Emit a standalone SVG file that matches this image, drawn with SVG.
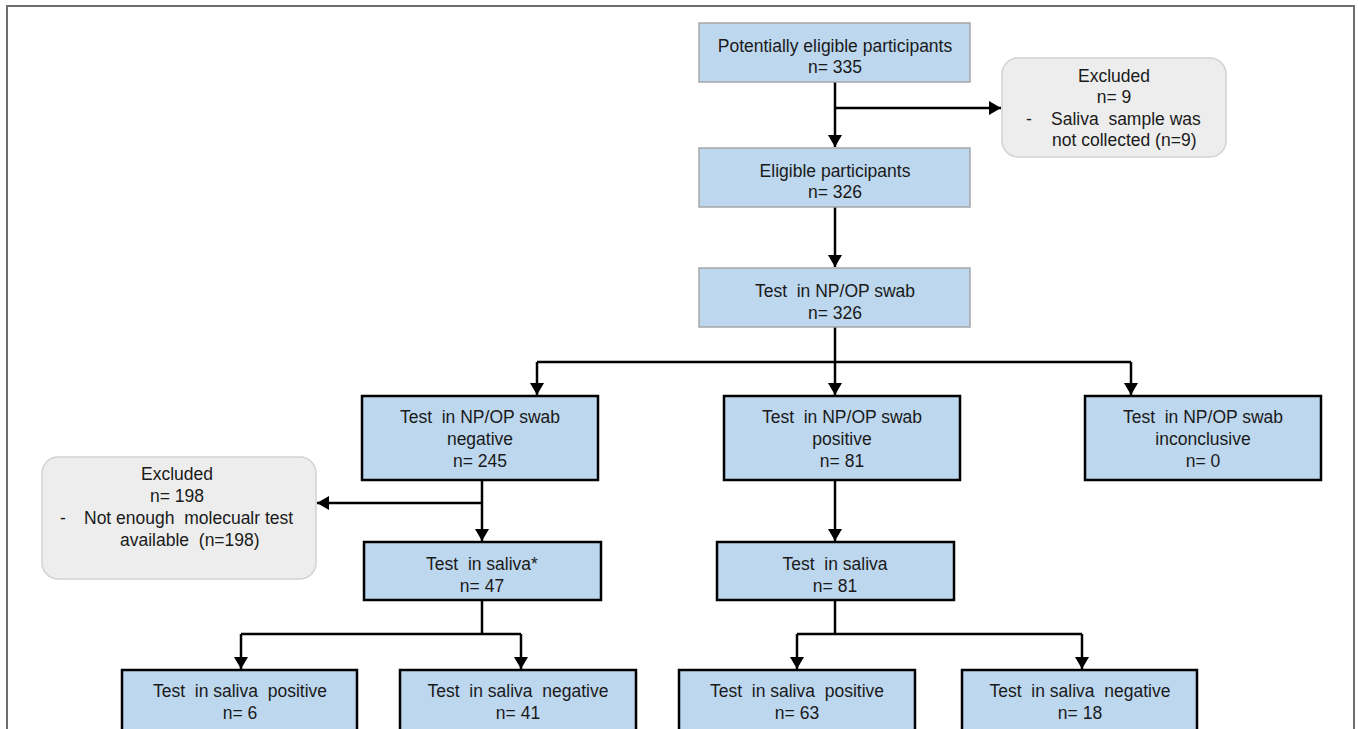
<svg xmlns="http://www.w3.org/2000/svg" width="1358" height="729" viewBox="0 0 1358 729">
<style>
  text { font-family: "Liberation Sans", Arial, sans-serif; font-size: 17.5px; fill: #1a1a1a; white-space: pre; }
  .c { text-anchor: middle; }
  .s { text-anchor: start; }
  .top { fill: #bdd7ee; stroke: #a6a6a6; stroke-width: 1.5; }
  .box { fill: #bdd7ee; stroke: #000; stroke-width: 2.5; }
  .exc { fill: #ededed; stroke: #d2d2d2; stroke-width: 1.5; }
  .ln { fill: none; stroke: #000; stroke-width: 2.5; }
</style>
<defs>
  <marker id="ah" markerUnits="userSpaceOnUse" markerWidth="16" markerHeight="16" viewBox="0 0 16 16" refX="13" refY="8" orient="auto">
    <path d="M1,1 L13,8 L1,15 Z" fill="#000"/>
  </marker>
</defs>
<rect x="7" y="6" width="1347" height="760" fill="none" stroke="#6e6e6e" stroke-width="2"/>

<g id="connectors">
  <path class="ln" d="M835,82 V147" marker-end="url(#ah)"/>
  <path class="ln" d="M835,108 H1001" marker-end="url(#ah)"/>
  <path class="ln" d="M835,207 V267" marker-end="url(#ah)"/>
  <path class="ln" d="M835,327 V362"/>
  <path class="ln" d="M537,362 H1131"/>
  <path class="ln" d="M537,362 V395" marker-end="url(#ah)"/>
  <path class="ln" d="M835,362 V395" marker-end="url(#ah)"/>
  <path class="ln" d="M1131,362 V395" marker-end="url(#ah)"/>
  <path class="ln" d="M482,480 V541" marker-end="url(#ah)"/>
  <path class="ln" d="M482,503 H317" marker-end="url(#ah)"/>
  <path class="ln" d="M835,480 V541" marker-end="url(#ah)"/>
  <path class="ln" d="M482,600 V634"/>
  <path class="ln" d="M241,634 H521"/>
  <path class="ln" d="M241,634 V669" marker-end="url(#ah)"/>
  <path class="ln" d="M521,634 V669" marker-end="url(#ah)"/>
  <path class="ln" d="M835,600 V634"/>
  <path class="ln" d="M797,634 H1082"/>
  <path class="ln" d="M797,634 V669" marker-end="url(#ah)"/>
  <path class="ln" d="M1082,634 V669" marker-end="url(#ah)"/>
</g>

<g id="potentially-eligible">
  <rect class="top" x="699" y="23" width="271" height="59"/>
  <text class="c" x="835" y="52">Potentially eligible participants</text>
  <text class="c" x="835" y="73">n= 335</text>
</g>

<g id="excluded-top">
  <rect class="exc" x="1002" y="58" width="224" height="99" rx="16"/>
  <text class="c" x="1114" y="82">Excluded</text>
  <text class="c" x="1114" y="103">n= 9</text>
  <text class="s" x="1026" y="125">-</text>
  <text class="s" x="1051" y="125">Saliva  sample was</text>
  <text class="s" x="1052" y="146">not collected (n=9)</text>
</g>

<g id="eligible">
  <rect class="top" x="699" y="148" width="271" height="59"/>
  <text class="c" x="835" y="177">Eligible participants</text>
  <text class="c" x="835" y="198">n= 326</text>
</g>

<g id="test-npop">
  <rect class="top" x="699" y="268" width="271" height="59"/>
  <text class="c" x="835" y="297">Test  in NP/OP swab</text>
  <text class="c" x="835" y="319">n= 326</text>
</g>

<g id="npop-negative">
  <rect class="box" x="362" y="396" width="236" height="84"/>
  <text class="c" x="480" y="423">Test  in NP/OP swab</text>
  <text class="c" x="480" y="445">negative</text>
  <text class="c" x="480" y="467">n= 245</text>
</g>

<g id="npop-positive">
  <rect class="box" x="724" y="396" width="236" height="84"/>
  <text class="c" x="842" y="423">Test  in NP/OP swab</text>
  <text class="c" x="842" y="445">positive</text>
  <text class="c" x="842" y="467">n= 81</text>
</g>

<g id="npop-inconclusive">
  <rect class="box" x="1085" y="396" width="236" height="84"/>
  <text class="c" x="1203" y="423">Test  in NP/OP swab</text>
  <text class="c" x="1203" y="445">inconclusive</text>
  <text class="c" x="1203" y="467">n= 0</text>
</g>

<g id="excluded-left">
  <rect class="exc" x="42" y="457" width="274" height="122" rx="16"/>
  <text class="c" x="177" y="480">Excluded</text>
  <text class="c" x="177" y="502">n= 198</text>
  <text class="s" x="60" y="524">-</text>
  <text class="s" x="84" y="524">Not enough  molecualr test</text>
  <text class="s" x="120" y="546">available  (n=198)</text>
</g>

<g id="saliva-neg-branch">
  <rect class="box" x="364" y="542" width="237" height="58"/>
  <text class="c" x="482" y="570">Test  in saliva*</text>
  <text class="c" x="482" y="592">n= 47</text>
</g>

<g id="saliva-pos-branch">
  <rect class="box" x="717" y="542" width="237" height="58"/>
  <text class="c" x="835" y="570">Test  in saliva</text>
  <text class="c" x="835" y="592">n= 81</text>
</g>

<g id="saliva-positive-1">
  <rect class="box" x="122" y="670" width="235" height="80"/>
  <text class="c" x="240" y="697">Test  in saliva  positive</text>
  <text class="c" x="240" y="719">n= 6</text>
</g>

<g id="saliva-negative-1">
  <rect class="box" x="400" y="670" width="236" height="80"/>
  <text class="c" x="518" y="697">Test  in saliva  negative</text>
  <text class="c" x="518" y="719">n= 41</text>
</g>

<g id="saliva-positive-2">
  <rect class="box" x="679" y="670" width="236" height="80"/>
  <text class="c" x="797" y="697">Test  in saliva  positive</text>
  <text class="c" x="797" y="719">n= 63</text>
</g>

<g id="saliva-negative-2">
  <rect class="box" x="962" y="670" width="235" height="80"/>
  <text class="c" x="1080" y="697">Test  in saliva  negative</text>
  <text class="c" x="1080" y="719">n= 18</text>
</g>
</svg>
